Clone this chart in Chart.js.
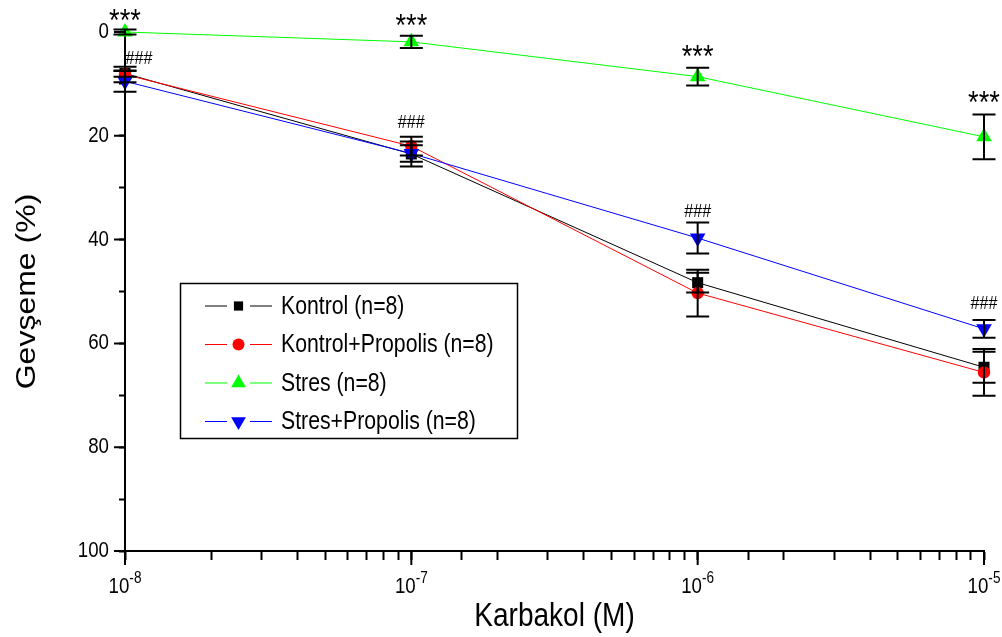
<!DOCTYPE html>
<html>
<head>
<meta charset="utf-8">
<script src="https://cdn.jsdelivr.net/npm/chart.js@4.4.1/dist/chart.umd.min.js"></script>
<style>
  body { margin: 0; background: #fff; }
</style>
</head>
<body>
<canvas id="grafik" width="1002" height="637"></canvas>
<script>
// Karbakol dozlari (M)
const dozlar = [1e-8, 1e-7, 1e-6, 1e-5];
const seriler = ['Kontrol (n=8)', 'Kontrol+Propolis (n=8)', 'Stres (n=8)', 'Stres+Propolis (n=8)'];

// gevseme (%) ve hata cubuklari
const kontrol = [8.0, 23.5, 48.3, 64.6];
const kontrolHata = [0.6, 2.4, 1.9, 3.0];
const kontrolPropolis = [8.2, 22.0, 50.3, 65.6];
const kontrolPropolisHata = [1.5, 1.8, 4.5, 4.5];
const stres = [0, 1.9, 8.6, 20.2];
const stresHata = [0.5, 1.2, 1.7, 4.3];
const stresPropolis = [9.5, 23.4, 39.7, 57.2];
const stresPropolisHata = [2.0, 1.6, 3.0, 1.7];

// anlamlilik isaretleri
const yildizX = [1e-8, 1e-7, 1e-6, 1e-5];
const yildizY = [-0.1, 0.7, 6.8, 15.7];
const diyezX = [1.12e-8, 1e-7, 1e-6, 1e-5];
const diyezY = [6.1, 18.5, 35.6, 53.4];

const FONT = "'Liberation Sans', Arial, sans-serif";
const SIKISMA = 0.85; // yazilar yatayda biraz dar
const renkler = ['#000000', '#ff0000', '#00ff00', '#0000ff'];
const stiller = ['rect', 'circle', 'triangle', 'triangle'];
const donus = [0, 0, 0, 180];
const boyut = [7.8, 6.2, 9, 9];
const lejantBoyut = [6.5, 6, 8.5, 8.5];
const degerler = [kontrol, kontrolPropolis, stres, stresPropolis];
const hatalar = [kontrolHata, kontrolPropolisHata, stresHata, stresPropolisHata];

const canvas = document.getElementById('grafik');
const ctx = canvas.getContext('2d');
// tum yazilari ekranda yatay olarak sikistir
ctx.fillText = function (metin, x, y) {
  const m = this.getTransform();
  const p = m.transformPoint(new DOMPoint(x, y));
  this.save();
  this.setTransform(new DOMMatrix().translate(p.x, p.y).scale(SIKISMA, 1).translate(-p.x, -p.y).multiply(m));
  CanvasRenderingContext2D.prototype.fillText.call(this, metin, x, y);
  this.restore();
};

const onluMu = v => {
  const p = Math.log10(v);
  return Math.abs(p - Math.round(p)) < 1e-6;
};

const ekler = {
  id: 'ekler',
  afterDatasetsDraw(chart) {
    const { ctx, scales: { x, y } } = chart;
    ctx.save();
    // hata cubuklari
    ctx.strokeStyle = '#000';
    ctx.lineWidth = 2;
    chart.data.datasets.forEach((ds, i) => {
      const meta = chart.getDatasetMeta(i);
      meta.data.forEach((pt, j) => {
        const v = ds.data[j].y, e = ds.hata[j];
        const y1 = y.getPixelForValue(v - e), y2 = y.getPixelForValue(v + e);
        ctx.beginPath();
        ctx.moveTo(pt.x, y1); ctx.lineTo(pt.x, y2);
        ctx.moveTo(pt.x - 11.5, y1); ctx.lineTo(pt.x + 11.5, y1);
        ctx.moveTo(pt.x - 11.5, y2); ctx.lineTo(pt.x + 11.5, y2);
        ctx.stroke();
      });
    });

    // ana tik cizgileri daha uzun
    ctx.beginPath();
    x.ticks.forEach(t => {
      if (!onluMu(t.value)) return;
      const px = x.getPixelForValue(t.value);
      ctx.moveTo(px, x.top); ctx.lineTo(px, x.top + 14);
    });
    y.ticks.forEach(t => {
      if (t.value % 20 !== 0) return;
      const py = y.getPixelForValue(t.value);
      ctx.moveTo(y.right, py); ctx.lineTo(y.right - 11, py);
    });
    ctx.stroke();

    // *** ve ###
    ctx.fillStyle = '#000';
    ctx.textAlign = 'center';
    ctx.textBaseline = 'alphabetic';
    ctx.font = '32px ' + FONT;
    yildizX.forEach((v, k) => ctx.fillText('***', x.getPixelForValue(v), y.getPixelForValue(yildizY[k])));
    ctx.font = '19px ' + FONT;
    diyezX.forEach((v, k) => ctx.fillText('###', x.getPixelForValue(v), y.getPixelForValue(diyezY[k])));

    // x ekseni etiketleri: 10 ve ust simge
    ctx.textAlign = 'left';
    const taban = x.top + 42;
    x.ticks.forEach(t => {
      if (!onluMu(t.value)) return;
      const n = Math.round(Math.log10(t.value));
      const px = x.getPixelForValue(t.value);
      ctx.font = '22px ' + FONT;
      const w1 = ctx.measureText('10').width * SIKISMA;
      ctx.font = '16px ' + FONT;
      const w2 = ctx.measureText(String(n)).width * SIKISMA;
      const x0 = px - (w1 + w2) / 2;
      ctx.font = '22px ' + FONT;
      ctx.fillText('10', x0, taban);
      ctx.font = '16px ' + FONT;
      ctx.fillText(String(n), x0 + w1, taban - 10);
    });

    // lejant
    const lx = x.left + 55, ly = y.top + 251;
    ctx.lineWidth = 1.5;
    ctx.strokeStyle = '#000';
    ctx.strokeRect(lx + 0.5, ly + 0.5, 337, 155);
    ctx.textBaseline = 'middle';
    ctx.font = '25px ' + FONT;
    chart.data.datasets.forEach((ds, i) => {
      const cy = ly + 23 + i * 38.5;
      ctx.strokeStyle = ds.borderColor;
      ctx.lineWidth = 1.2;
      ctx.beginPath();
      ctx.moveTo(lx + 25, cy); ctx.lineTo(lx + 47, cy);
      ctx.moveTo(lx + 70, cy); ctx.lineTo(lx + 92, cy);
      ctx.stroke();
      ctx.fillStyle = ds.backgroundColor;
      Chart.helpers.drawPoint(ctx, { pointStyle: ds.pointStyle, radius: lejantBoyut[i],
        rotation: ds.pointRotation, borderWidth: 0 }, lx + 58.5, cy);
      ctx.fillStyle = '#000';
      ctx.fillText(ds.label, lx + 101, cy + 1);
    });
    ctx.restore();
  }
};

new Chart(ctx, {
  type: 'line',
  data: {
    datasets: seriler.map((ad, i) => ({
      label: ad,
      data: dozlar.map((d, j) => ({ x: d, y: degerler[i][j] })),
      hata: hatalar[i],
      borderColor: renkler[i],
      backgroundColor: renkler[i],
      borderWidth: 1,
      pointStyle: stiller[i],
      pointRotation: donus[i],
      pointRadius: boyut[i],
      pointBorderWidth: 0,
      clip: false,
      order: 4 - i
    }))
  },
  options: {
    responsive: false,
    animation: false,
    devicePixelRatio: 1,
    layout: { padding: { top: 32, right: 18, left: 0, bottom: 0 } },
    plugins: { legend: { display: false }, tooltip: { enabled: false } },
    scales: {
      x: {
        type: 'logarithmic',
        min: 1e-8,
        max: 1e-5,
        border: { color: '#000', width: 2 },
        grid: { drawOnChartArea: false, tickLength: 9, tickColor: '#000', tickWidth: 2 },
        ticks: { display: false, autoSkip: false, maxRotation: 0 },
        title: { display: true, text: 'Karbakol (M)', color: '#000', font: { family: FONT, size: 33 }, padding: 0 },
        afterFit: s => { s.height = 86; s.paddingLeft = 0; s.paddingRight = 0; }
      },
      y: {
        reverse: true,
        min: 0,
        max: 100,
        border: { color: '#000', width: 2 },
        grid: { drawOnChartArea: false, tickLength: 6, tickColor: '#000', tickWidth: 2 },
        ticks: {
          stepSize: 10, color: '#000', padding: 10,
          font: { family: FONT, size: 22 },
          callback: v => (v % 20 === 0 ? v : '')
        },
        title: { display: true, text: 'Gevşeme (%)', color: '#000', font: { family: FONT, size: 32 }, padding: { top: 8, bottom: 0 } },
        afterFit: s => { s.width = 125; s.paddingTop = 0; s.paddingBottom = 0; }
      }
    }
  },
  plugins: [ekler]
});
</script>
</body>
</html>
